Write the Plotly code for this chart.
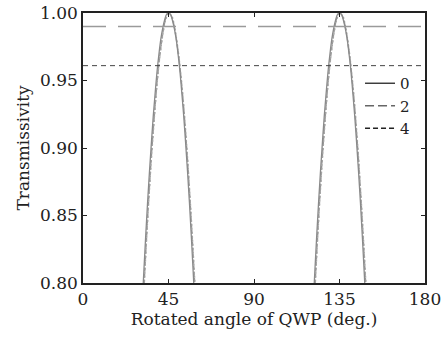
import plotly.graph_objects as go

# Angles (deg) and transmissivity
angles_a = [31, 32, 33, 34, 35, 36, 37, 38, 39, 40, 41, 42, 43, 44, 45,
            46, 47, 48, 49, 50, 51, 52, 53, 54, 55, 56, 57, 58, 59]
t0_a = [0.780, 0.808, 0.835, 0.860, 0.883, 0.904, 0.924, 0.941, 0.957, 0.970, 0.981, 0.989, 0.995, 0.999, 1.000,
        0.999, 0.995, 0.989, 0.981, 0.970, 0.957, 0.941, 0.924, 0.904, 0.883, 0.860, 0.835, 0.808, 0.780]
angles_b = [32, 33, 34, 35, 36, 37, 38, 39, 40, 41, 42, 43, 44, 45, 46,
            47, 48, 49, 50, 51, 52, 53, 54, 55, 56, 57, 58, 59, 60, 61]
t2_b = [0.795, 0.822, 0.848, 0.872, 0.894, 0.914, 0.932, 0.949, 0.963, 0.975, 0.985, 0.993, 0.998, 1.000, 0.999,
        0.996, 0.990, 0.982, 0.972, 0.960, 0.946, 0.930, 0.911, 0.891, 0.869, 0.845, 0.820, 0.794, 0.770, 0.745]
t4_b = [0.792, 0.820, 0.846, 0.870, 0.892, 0.912, 0.931, 0.948, 0.962, 0.974, 0.984, 0.992, 0.997, 1.000, 0.999,
        0.997, 0.991, 0.983, 0.973, 0.961, 0.947, 0.931, 0.913, 0.893, 0.871, 0.848, 0.823, 0.797, 0.772, 0.747]
period_shift = 90
level_2 = 0.99
level_4 = 0.961
x_ticks = [0, 45, 90, 135, 180]
y_ticks = [0.80, 0.85, 0.90, 0.95, 1.00]
labels = ["0", "2", "4"]

FONT = "DejaVu Serif"
fig = go.Figure()

for shift in [0, period_shift]:
    xa = [a + shift for a in angles_a]
    xb = [a + shift for a in angles_b]
    fig.add_trace(go.Scatter(x=xb, y=t2_b, mode="lines", line=dict(color="#9a9a9a", width=1.4, dash="4px,2px"),
                             showlegend=False, line_shape="spline"))
    fig.add_trace(go.Scatter(x=xb, y=t4_b, mode="lines", line=dict(color="#a5a5a5", width=1.4, dash="2px,2px"),
                             showlegend=False, line_shape="spline"))
    fig.add_trace(go.Scatter(x=xa, y=t0_a, mode="lines", line=dict(color="#8a8a8a", width=1.3),
                             showlegend=False, line_shape="spline"))

fig.add_trace(go.Scatter(x=[0, 180], y=[level_2, level_2], mode="lines",
                         line=dict(color="#9a9a9a", width=1.3, dash="23px,12px"), showlegend=False))
fig.add_trace(go.Scatter(x=[0, 180], y=[level_4, level_4], mode="lines",
                         line=dict(color="#444444", width=1, dash="5px,4px"), showlegend=False))

# legend entries
fig.add_trace(go.Scatter(x=[None], y=[None], mode="lines", name=labels[0],
                         line=dict(color="#333333", width=1.4)))
fig.add_trace(go.Scatter(x=[None], y=[None], mode="lines", name=labels[1],
                         line=dict(color="#666666", width=1.4, dash="9px,4px")))
fig.add_trace(go.Scatter(x=[None], y=[None], mode="lines", name=labels[2],
                         line=dict(color="#222222", width=1.4, dash="5px,3px")))

axis_common = dict(showgrid=False, zeroline=False, showline=True, linecolor="#222222", linewidth=1.5,
                   mirror="ticks", ticks="inside", ticklen=4, tickcolor="#222222", automargin=False,
                   tickfont=dict(family=FONT, size=17, color="#222222"))

fig.update_layout(
    width=442, height=339,
    margin=dict(l=83, r=17, t=13, b=56),
    plot_bgcolor="white", paper_bgcolor="white",
    font=dict(family=FONT, size=17, color="#222222"),
    xaxis=dict(range=[0, 180], tickvals=x_ticks, ticktext=[str(v) for v in x_ticks],
               title=dict(text="Rotated angle of QWP (deg.)", standoff=2, font=dict(family=FONT, size=17)),
               **axis_common),
    yaxis=dict(range=[0.80, 1.00], tickvals=y_ticks, ticktext=["%.2f" % v for v in y_ticks],
               title=dict(text="Transmissivity", standoff=6, font=dict(family=FONT, size=17)),
               **axis_common),
    legend=dict(x=0.81, y=0.80, xanchor="left", yanchor="top", bgcolor="rgba(0,0,0,0)",
                font=dict(family=FONT, size=15, color="#222222"), tracegroupgap=0, itemwidth=30),
    showlegend=True,
)

fig.write_html("out.html", config={"displayModeBar": False},
               post_script="document.body.style.margin='0';document.body.style.overflow='hidden';")
